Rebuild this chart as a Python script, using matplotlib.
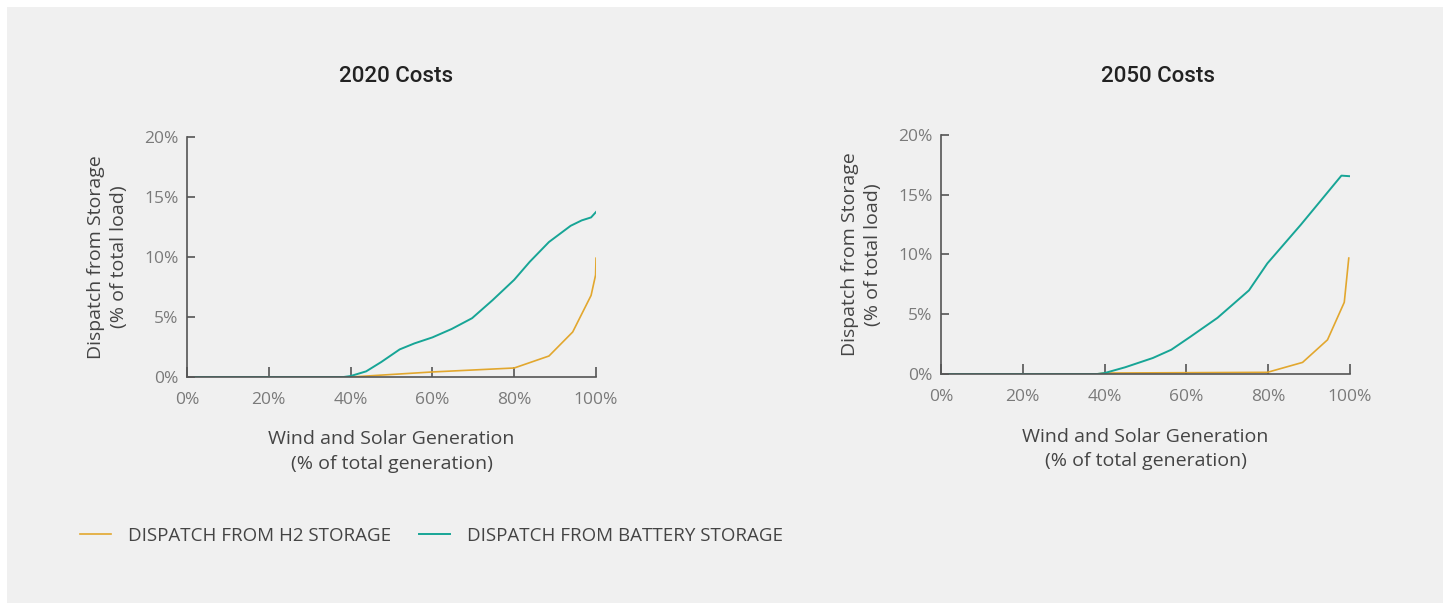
import matplotlib
matplotlib.use("Agg")
import matplotlib.pyplot as plt
from matplotlib.patches import Rectangle
from matplotlib.ticker import FuncFormatter

plt.rcParams['font.family'] = ['Open Sans', 'DejaVu Sans']

# Datos (x = % generacion eolica+solar, y = % de la carga)
x_h2_2020 = [2, 38, 40, 60, 80, 88.5, 94.3, 98.8, 99.9, 100]
y_h2_2020 = [0, 0, 0.0, 0.42, 0.75, 1.75, 3.75, 6.8, 8.5, 9.9]
x_bat_2020 = [2, 38.3, 40, 43.8, 47.5, 52, 55.6, 60, 64.7, 69.7, 74.7, 80, 83.8,
              88.5, 93.8, 96.5, 98.8, 100]
y_bat_2020 = [0, 0, 0.08, 0.47, 1.25, 2.3, 2.8, 3.3, 4.0, 4.9, 6.4, 8.1, 9.6,
              11.25, 12.6, 13.05, 13.3, 13.75]

x_h2_2050 = [2, 38, 40, 79.8, 88.4, 94.5, 98.6, 99.7]
y_h2_2050 = [0, 0, 0.08, 0.14, 0.97, 2.86, 6.0, 9.7]
x_bat_2050 = [2, 38.2, 40, 45, 51.8, 56.3, 60.9, 67.6, 75.3, 79.8, 88, 97.9, 100]
y_bat_2050 = [0, 0, 0.08, 0.56, 1.34, 2.03, 3.1, 4.7, 7.0, 9.26, 12.5, 16.6, 16.55]

titulos = ["2020 Costs", "2050 Costs"]
x_ticks = [0, 20, 40, 60, 80, 100]
y_ticks = [0, 5, 10, 15, 20]

ORO = "#E2A72E"
VERDE = "#17A596"
FONDO = "#F0F0F0"

W, H = 1448, 606
fig = plt.figure(figsize=(W / 100, H / 100), dpi=100, facecolor="white")
fig.patches.append(Rectangle((7 / W, 3 / H), (W - 12) / W, (H - 10) / H,
                             transform=fig.transFigure, facecolor=FONDO,
                             edgecolor="none", zorder=-10))

# posiciones de los ejes en pixeles: (x0, x1, y_top, y_bottom)
cajas = [(187, 596, 137, 377), (941, 1350, 135, 374)]
centros_titulo = [396, 1158]
datos = [(x_h2_2020, y_h2_2020, x_bat_2020, y_bat_2020),
         (x_h2_2050, y_h2_2050, x_bat_2050, y_bat_2050)]

for i in range(2):
    x0, x1, yt, yb = cajas[i]
    ax = fig.add_axes([x0 / W, 1 - yb / H, (x1 - x0) / W, (yb - yt) / H])
    ax.set_facecolor("none")
    xh, yh, xb, yb_ = datos[i]
    l1, = ax.plot(xh, yh, color=ORO, lw=1.2, solid_joinstyle="round")
    l2, = ax.plot(xb, yb_, color=VERDE, lw=1.4, solid_joinstyle="round")
    ax.set_xlim(0, 100)
    ax.set_ylim(0, 20)
    ax.set_xticks(x_ticks)
    ax.set_yticks(y_ticks)
    fmt = FuncFormatter(lambda v, p: f"{v:.0f}%")
    ax.xaxis.set_major_formatter(fmt)
    ax.yaxis.set_major_formatter(fmt)
    for s in ["top", "right"]:
        ax.spines[s].set_visible(False)
    for s in ["left", "bottom"]:
        ax.spines[s].set_color("#555555")
        ax.spines[s].set_linewidth(1.2)
    ax.tick_params(axis="x", direction="in", length=7, width=1.2, color="#555555",
                   labelsize=12.5, labelcolor="#7a7a7a", pad=11)
    ax.tick_params(axis="y", direction="in", length=6, width=1.2, color="#555555",
                   labelsize=12.5, labelcolor="#7a7a7a", pad=6)
    ax.set_xlabel("Wind and Solar Generation\n(% of total generation)",
                  fontsize=14, color="#444444", labelpad=16, linespacing=1.45)
    ax.set_ylabel("Dispatch from Storage\n(% of total load)",
                  fontsize=14, color="#444444", labelpad=12, linespacing=1.3)
    fig.text(centros_titulo[i] / W, 1 - 76 / H, titulos[i], ha="center",
             va="center", fontsize=16, color="#222222",
             family=["Roboto", "Open Sans"], fontweight="medium")

fig.legend([l1, l2], ["DISPATCH FROM H2 STORAGE", "DISPATCH FROM BATTERY STORAGE"],
           loc="center left", bbox_to_anchor=(63 / W, 1 - 536 / H), ncol=2,
           frameon=False, handlelength=1.65, handletextpad=0.9,
           columnspacing=1.5, prop={"size": 13.5},
           labelcolor="#444444")

fig.savefig("out.png", dpi=100, facecolor="white")
